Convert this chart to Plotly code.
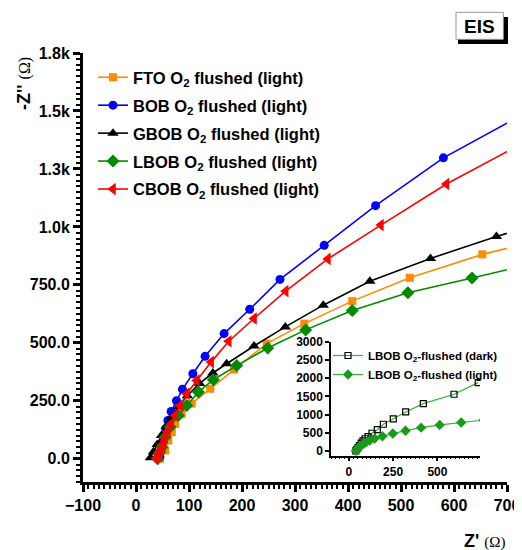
import plotly.graph_objects as go

# ---------------- data ----------------
fto_x = [45.6, 55, 61, 67.6, 73.9, 86.5, 105, 140, 185, 246.6, 317.5, 408, 516.6, 653.5, 760]
fto_y = [0, 36, 79, 115, 151, 194, 238, 302, 385, 497, 583, 680, 780.5, 881.6, 941]

bob_x = [45, 47, 49, 52, 56, 60.1, 66.3, 76.3, 87.6, 107.2, 130.4, 166.2, 214.6, 271.7, 355.1, 452, 580, 760]
bob_y = [8, 35, 62, 95, 130, 165.5, 204, 250.6, 299.5, 367, 442, 540, 645, 773.5, 920.5, 1091.6, 1297.8, 1523]

gbob_x = [27, 33, 40, 48, 57, 67, 80, 97, 120, 145, 171, 222.7, 281.7, 353.3, 441.2, 555.6, 680, 760]
gbob_y = [5, 30, 62, 100, 140, 180, 225, 272, 325, 370, 410, 486.6, 568.7, 662.5, 766, 864, 959, 1011]

lbob_x = [40.5, 44, 48.8, 55, 64.4, 80, 95.9, 117.8, 146, 190, 248.5, 320, 408, 513, 634, 760]
lbob_y = [0, 25, 50, 93, 137, 187, 230, 288, 341, 402, 478, 556, 640, 716, 780, 847]

cbob_x = [38, 42, 46, 50, 55, 60, 66, 73.9, 83.3, 95.9, 114.7, 141.7, 175, 222.7, 282.4, 362, 462, 585.7, 760]
cbob_y = [2, 18, 38, 62, 90, 118, 150, 187, 230, 281, 338, 417, 507, 605, 723, 862, 1008, 1185, 1398]

# inset: LBOB dark vs light
dark_x = [40, 45, 52, 60, 70, 80, 92, 109, 131, 161, 195, 251, 321, 420.5, 593.6, 730]
dark_y = [0, 40, 90, 150, 215, 275, 335, 393, 486, 585, 733, 879, 1071, 1300, 1557, 1877]
light_x = lbob_x
light_y = lbob_y

y_tickvals = [0, 250, 500, 750, 1000, 1250, 1500, 1750]
y_ticktext = ["0.0", "250.0", "500.0", "750.0", "1.0k", "1.3k", "1.5k", "1.8k"]
x_tickvals = [-100, 0, 100, 200, 300, 400, 500, 600, 700]
inset_y_tickvals = [0, 500, 1000, 1500, 2000, 2500, 3000]
inset_x_tickvals = [0, 250, 500]

# ---------------- layout geometry ----------------
# the page body adds an 8px offset; target plot area (page px): x 83..507, y 53..482
OFF = 8
W, H = 522, 550
ML, MT = 83 - OFF, 53 - OFF
MR, MB = W - (507 - OFF), H - (482 - OFF)
PW = W - ML - MR
PH = H - MT - MB


def PX(px):
    return (px - OFF - ML) / PW


def PY(py):
    return (H - MB - (py - OFF)) / PH


FONT = "Liberation Sans, Arial, sans-serif"

fig = go.Figure()

series = [
    ("FTO O<sub>2</sub> flushed (light)", fto_x, fto_y, "#ff8c00", "square", 8),
    ("BOB O<sub>2</sub> flushed (light)", bob_x, bob_y, "#0000ff", "circle", 9),
    ("GBOB O<sub>2</sub> flushed (light)", gbob_x, gbob_y, "#000000", "triangle-up", 10),
    ("LBOB O<sub>2</sub> flushed (light)", lbob_x, lbob_y, "#008a00", "diamond", 10),
    ("CBOB O<sub>2</sub> flushed (light)", cbob_x, cbob_y, "#ff0000", "triangle-left", 11),
]
for i, (name, xs, ys, col, sym, sz) in enumerate(series):
    fig.add_trace(go.Scatter(
        x=xs, y=ys, name=name, mode="lines+markers",
        line=dict(color=col, width=1.6),
        marker=dict(symbol=sym, size=sz, color=col, line=dict(width=0)),
        legend="legend", legendgroup="g%d" % i,
    ))

# inset traces
fig.add_trace(go.Scatter(
    x=dark_x, y=dark_y, name="LBOB O<sub>2</sub>-flushed (dark)", mode="lines+markers",
    line=dict(color="#2db82d", width=1.2),
    marker=dict(symbol="square-open", size=6, color="#000000", line=dict(width=1.2)),
    xaxis="x2", yaxis="y2", legend="legend2",
))
fig.add_trace(go.Scatter(
    x=light_x, y=light_y, name="LBOB O<sub>2</sub>-flushed (light)", mode="lines+markers",
    line=dict(color="#2db82d", width=1.2),
    marker=dict(symbol="diamond", size=8, color="#1a9a1a", line=dict(width=0)),
    xaxis="x2", yaxis="y2", legend="legend2",
))

tickfont = dict(family=FONT, size=16, color="black", weight="bold")
inset_font = dict(family=FONT, size=12, color="black", weight="bold")

fig.update_layout(
    width=W, height=H,
    margin=dict(l=ML, r=MR, t=MT, b=MB, autoexpand=False),
    paper_bgcolor="white", plot_bgcolor="white",
    xaxis=dict(
        range=[-100, 700], tickvals=x_tickvals, showgrid=False, zeroline=False,
        showline=True, linecolor="black", linewidth=3, automargin=False,
        ticks="outside", ticklen=7, tickwidth=2.5, tickcolor="black",
        minor=dict(dtick=10, ticks="outside", ticklen=4, tickwidth=1.5, tickcolor="black"),
        tickfont=tickfont, domain=[0, 1],
    ),
    yaxis=dict(
        range=[-100, 1750], tickvals=y_tickvals, ticktext=y_ticktext,
        showgrid=False, zeroline=False, automargin=False,
        showline=True, linecolor="black", linewidth=3,
        ticks="outside", ticklen=7, tickwidth=2.5, tickcolor="black",
        minor=dict(dtick=25, ticks="outside", ticklen=4, tickwidth=1.5, tickcolor="black"),
        tickfont=tickfont, domain=[0, 1],
    ),
    xaxis2=dict(
        domain=[PX(331), PX(480)], anchor="y2", automargin=False,
        range=[-100, 740], tickvals=inset_x_tickvals, showgrid=False, zeroline=False,
        showline=True, linecolor="black", linewidth=1.5,
        ticks="outside", ticklen=4, tickwidth=1.5, tickcolor="black",
        minor=dict(dtick=25, ticks="outside", ticklen=2, tickwidth=1, tickcolor="black"),
        tickfont=inset_font,
    ),
    yaxis2=dict(
        domain=[PY(455.7), PY(341.7)], anchor="x2", automargin=False,
        range=[-130, 3000], tickvals=inset_y_tickvals, showgrid=False, zeroline=False,
        showline=True, linecolor="black", linewidth=1.5,
        ticks="outside", ticklen=4, tickwidth=1.5, tickcolor="black",
        tickfont=inset_font,
    ),
    legend=dict(
        x=PX(93), y=PY(60), xanchor="left", yanchor="top",
        bgcolor="rgba(0,0,0,0)", borderwidth=0,
        font=dict(family=FONT, size=16.5, color="black", weight="bold"),
        traceorder="grouped", tracegroupgap=3.5,
    ),
    legend2=dict(
        x=PX(328), y=PY(341), xanchor="left", yanchor="top",
        bgcolor="rgba(0,0,0,0)", borderwidth=0,
        font=dict(family=FONT, size=11.5, color="black", weight="bold"),
        tracegroupgap=0,
    ),
    showlegend=True,
)

# axis titles
fig.add_annotation(
    x=PX(24), y=PY(84), xref="paper", yref="paper", showarrow=False, textangle=-90,
    xanchor="center", yanchor="middle",
    text="<b>-Z''</b> <span style='font-family:Liberation Serif;font-size:16px'>(Ω)</span>",
    font=dict(family=FONT, size=18, color="black"),
)
fig.add_annotation(
    x=PX(484), y=PY(541), xref="paper", yref="paper", showarrow=False,
    xanchor="center", yanchor="middle",
    text="<b>Z'</b> <span style='font-family:Liberation Serif;font-size:15px'>(Ω)</span>",
    font=dict(family=FONT, size=18, color="black"),
)

# EIS box with drop shadow
fig.add_shape(type="rect", xref="paper", yref="paper",
              x0=PX(458), x1=PX(508), y0=PY(44), y1=PY(17),
              fillcolor="black", line=dict(width=0), layer="above")
fig.add_shape(type="rect", xref="paper", yref="paper",
              x0=PX(456), x1=PX(503.3), y0=PY(39.3), y1=PY(12.3),
              fillcolor="white", line=dict(width=1, color="#999999"), layer="above")
fig.add_annotation(
    x=PX(479.5), y=PY(26), xref="paper", yref="paper", showarrow=False,
    xanchor="center", yanchor="middle",
    text="<b>EIS</b>", font=dict(family=FONT, size=19, color="black"),
)

fig.write_html("out.html")
